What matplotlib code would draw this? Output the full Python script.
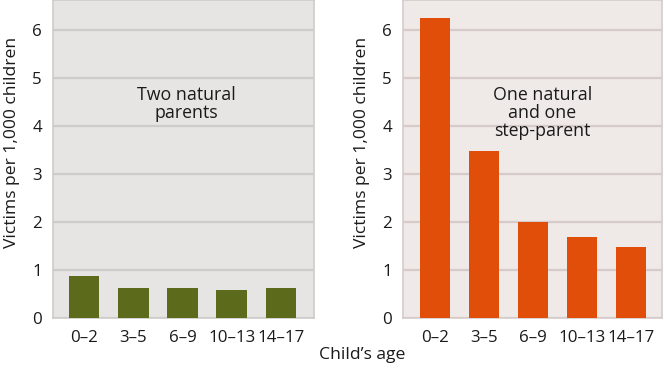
import numpy as np
import matplotlib
matplotlib.use("Agg")
import matplotlib.pyplot as plt

plt.rcParams['font.family'] = ['Open Sans', 'DejaVu Sans']

ages = ["0\u20132", "3\u20135", "6\u20139", "10\u201313", "14\u201317"]
two_natural = [0.88, 0.63, 0.62, 0.58, 0.62]
step_parent = [6.25, 3.47, 2.0, 1.68, 1.47]

fig = plt.figure(figsize=(6.64, 3.72), dpi=100)

panels = [
    # (left, width, values, bar colour, bg, grid, label, label pos)
    (53, 261, two_natural, "#5b6b1b", "#e6e5e3", "#cdcccb",
     "Two natural\nparents", (2.07, 4.46), -0.63, 4.67),
    (403, 259, step_parent, "#e04e0a", "#efe9e7", "#d6cbc9",
     "One natural\nand one\nstep-parent", (2.19, 4.27), -0.65, 4.63),
]

W, H = 664, 372
for left, width, vals, col, bg, grid, label, pos, x0, x1 in panels:
    ax = fig.add_axes([left / W, 1 - 318 / H, width / W, 318 / H])
    ax.set_facecolor(bg)
    x = np.arange(len(ages))
    ax.bar(x, vals, width=0.62, color=col, zorder=3)
    ax.set_xlim(x0, x1)
    ax.set_ylim(0, 6.625)
    ax.set_yticks(range(7))
    ax.set_xticks(x)
    ax.set_xticklabels(ages)
    ax.yaxis.grid(True, color=grid, lw=1.6, zorder=1)
    ax.tick_params(length=0, labelsize=12.2, colors="#1a1a1a")
    ax.tick_params(axis="y", pad=8)
    ax.tick_params(axis="x", pad=9)
    for s in ["left", "right", "bottom", "top"]:
        ax.spines[s].set_color(grid)
        ax.spines[s].set_linewidth(1.2)
    ax.set_ylabel("Victims per 1,000 children", fontsize=12.6,
                  color="#1a1a1a")
    ax.yaxis.set_label_coords(-33 / width, 1 - 142 / 318)
    ax.text(pos[0], pos[1], label, ha="center", va="center",
            fontsize=12.8, color="#1a1a1a", linespacing=1.0)

fig.text(362 / W, 1 - 355 / H, "Child\u2019s age", ha="center", va="center",
         fontsize=12.6, color="#1a1a1a")

fig.savefig("out.png", dpi=100)
